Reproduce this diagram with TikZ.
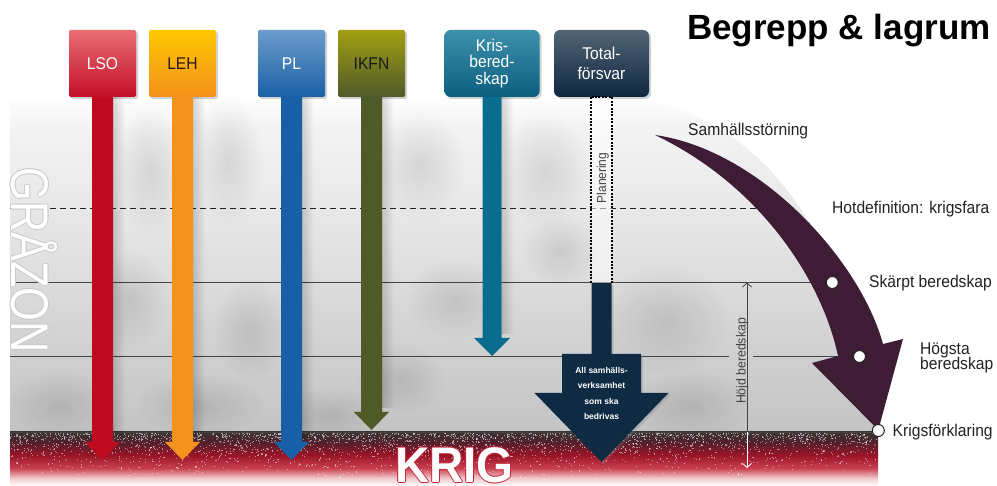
\documentclass[tikz,border=0pt]{standalone}
\usepackage{fontspec}
\setmainfont{Liberation Sans}
\newfontfamily\cond{Liberation Sans}[FakeStretch=0.92]
\newfontfamily\gzfont{Liberation Sans}[FakeStretch=0.82]
\newfontfamily\krfont{Liberation Sans}[FakeStretch=0.95]
\usetikzlibrary{arrows.meta,shadows,fadings,calc}
\definecolor{lsoA}{HTML}{E86E72}\definecolor{lsoB}{HTML}{C40E28}\definecolor{lsoS}{HTML}{C00A20}
\definecolor{lehA}{HTML}{FFC800}\definecolor{lehB}{HTML}{F39019}\definecolor{lehS}{HTML}{F3921E}
\definecolor{plA}{HTML}{6C9CCC}\definecolor{plB}{HTML}{1A5FA6}\definecolor{plS}{HTML}{1760A8}
\definecolor{ikA}{HTML}{A39E12}\definecolor{ikB}{HTML}{4E5A2A}\definecolor{ikS}{HTML}{4F5A28}
\definecolor{krA}{HTML}{3E91AC}\definecolor{krB}{HTML}{0B5E7E}\definecolor{krS}{HTML}{0A6C8E}
\definecolor{toA}{HTML}{536575}\definecolor{toB}{HTML}{0E2640}\definecolor{navy}{HTML}{0F2B44}
\definecolor{plum}{HTML}{3E1C35}
\definecolor{txt}{HTML}{222222}\definecolor{txtgray}{HTML}{444444}
\definecolor{bdA}{HTML}{3A3436}\definecolor{bdB}{HTML}{52202A}\definecolor{bdC}{HTML}{9A1428}
\definecolor{bdD}{HTML}{C84050}\definecolor{bdE}{HTML}{F0C8CC}
\definecolor{gA}{HTML}{F3F3F3}\definecolor{gB}{HTML}{E2E2E2}\definecolor{gC}{HTML}{D0D0D0}\definecolor{gD}{HTML}{C4C4C4}
\definecolor{gzline}{HTML}{C8C8C8}\definecolor{krline}{HTML}{C8283A}
\tikzfading[name=fadeR, left color=transparent!0, right color=transparent!100]
\tikzfading[name=fuzzy, inner color=transparent!0, outer color=transparent!100]
\pgfdeclareverticalshading{bandshade}{100bp}{color(0bp)=(white); color(25bp)=(white); color(32.5bp)=(bdE); color(41.5bp)=(bdD); color(53.5bp)=(bdC); color(65.5bp)=(bdB); color(75bp)=(bdA); color(100bp)=(bdA)}
\pgfdeclareverticalshading{grayshade}{100bp}{color(0bp)=(gD); color(25bp)=(gD); color(37bp)=(gC); color(52bp)=(gB); color(70bp)=(gA); color(75bp)=(white); color(100bp)=(white)}
\newcommand\mydnarrow[6]{%
  \fill[black,opacity=.16,path fading=fadeR] let \p1=(#1), \p2=(#2) in (\x1+#4,\y1) rectangle (\x1+#4+12pt,\y2+#6+4pt);
  \fill[#3] let \p1=(#1), \p2=(#2) in (\x1-#4,\y1) -- (\x1+#4,\y1) -- (\x1+#4,\y2+#6) -- (\x1+#5,\y2+#6) -- (\x2,\y2) -- (\x1-#5,\y2+#6) -- (\x1-#4,\y2+#6) -- cycle;}
\begin{document}
\begin{tikzpicture}[x=1pt,y=-1pt,
  box/.style={minimum width=67pt, minimum height=67pt, inner sep=0pt, rounded corners=1.5pt,
    shading angle=45, drop shadow={opacity=.35,shadow xshift=2pt,shadow yshift=-2pt},
    font=\cond\fontsize{17}{20}\selectfont, text=white},
  rbox/.style={box, minimum width=95pt, rounded corners=6pt, align=center},
  lbl/.style={inner sep=0pt, anchor=base west, font=\cond\fontsize{17}{17}\selectfont, text=txt},
  hline/.style={draw=txtgray, line width=0.9pt},
  dashline/.style={draw=txt, line width=0.8pt, dash pattern=on 6pt off 4pt},
  harrow/.style={draw=txtgray, line width=0.8pt, -{Straight Barb[length=4pt,width=9pt]}},
  dotc/.style={circle, draw=txt, fill=white, line width=1pt, minimum size=12pt, inner sep=0pt},
  blob/.style={black, opacity=.10, path fading=fuzzy}]
\useasboundingbox (0,0) rectangle (997,486);
\fill[white] (0,0) rectangle (997,486);
% grey zone
\shade[shading=grayshade] (10,95) -- (600,95) .. controls (770,100) and (850,250) .. (878,432) -- (10,432) -- cycle;
\foreach \bx/\by/\brx/\bry in {60/405/55/35, 150/170/35/65, 228/160/35/65, 420/165/45/55, 545/170/45/60,
   455/300/50/40, 665/320/65/55, 200/405/65/32, 330/415/55/28, 560/250/40/35, 130/300/38/50, 250/330/38/50, 400/380/45/35, 690/405/60/35}
  {\fill[blob] (\bx,\by) ellipse ({\brx} and {\bry});}
% war band
\shade[shading=bandshade] (10,432) rectangle (878,486);
\pgfmathsetseed{7}
\foreach \i in {1,...,2600}{
  \pgfmathsetmacro\sx{10+866*rnd}
  \pgfmathsetmacro\sy{433+46*rnd*rnd}
  \fill[white,opacity=.5] (\sx,\sy) rectangle ++(1.1,1.1);}
\draw[txtgray, line width=0.8pt] (10,432) -- (878,432);
% level lines
\coordinate (dl) at (10,208); \coordinate (dr) at (790,208);
\coordinate (c1p) at (832.3,282.5); \coordinate (c2p) at (859.5,356.5); \coordinate (c3p) at (878.3,430.5);
\coordinate (l1) at (10,282.5);
\coordinate (l2) at (10,356.5); \coordinate (l2a) at (729,356.5); \coordinate (l2b) at (753,356.5);
\draw[dashline] (dl) -- (dr);
\draw[hline] (l1) -- (c1p);
\draw[hline] (l2) -- (l2a);
\draw[hline] (l2b) -- (c2p);
% Hojd beredskap
\coordinate (htop) at (747,282.5); \coordinate (hmid) at (747,432); \coordinate (hbot) at (747,468);
\draw[harrow] (hmid) -- (htop);
\draw[harrow, draw=white] (hmid) -- (hbot);
\node[rotate=90, anchor=base, inner sep=0pt, font=\cond\fontsize{13.3}{13.3}\selectfont, text=txtgray] (hojd) at (745.5,361) {Höjd beredskap};
% boxes
\node[box, top color=lsoA, bottom color=lsoB] (lso) at (102.5,63.5) {LSO};
\node[box, top color=lehA, bottom color=lehB, text=black!80!brown] (leh) at (182.5,63.5) {LEH};
\node[box, top color=plA, bottom color=plB] (pl) at (291.5,63.5) {PL};
\node[box, top color=ikA, bottom color=ikB, text=black!90] (ikfn) at (371.5,63.5) {IKFN};
\node[rbox, top color=krA, bottom color=krB, font=\cond\fontsize{17}{16.5}\selectfont] (kris) at (492,63.5) {Kris-\\bered-\\skap};
\node[rbox, top color=toA, bottom color=toB, font=\cond\fontsize{17}{19.5}\selectfont] (total) at (601.5,63.5) {Total-\\försvar};
% arrow ends
\coordinate (lso-end) at (102.5,460); \coordinate (leh-end) at (182.5,460);
\coordinate (pl-end) at (291.5,460); \coordinate (ik-end) at (371.5,430);
\coordinate (kr-end) at (492,356);
\mydnarrow{lso.south}{lso-end}{lsoS}{10.5pt}{17.5pt}{18pt}
\mydnarrow{leh.south}{leh-end}{lehS}{10.5pt}{17.5pt}{18pt}
\mydnarrow{pl.south}{pl-end}{plS}{10.5pt}{17.5pt}{18pt}
\mydnarrow{ikfn.south}{ik-end}{ikS}{10.5pt}{17.5pt}{18pt}
\mydnarrow{kris.south}{kr-end}{krS}{9.5pt}{18pt}{18pt}
% totalforsvar
\node[fill=white, fill opacity=.55, minimum width=20pt, minimum height=186pt, anchor=north, inner sep=0pt] (plan) at (total.south) {};
\draw[draw=black, dash pattern=on 2pt off 1.4pt, line width=2pt] (plan.north west) rectangle (plan.south east);
\node[rotate=90, anchor=base, inner sep=0pt, font=\cond\fontsize{13}{13}\selectfont, text=txtgray] (planering) at (606,178) {Planering};
\fill[navy, drop shadow={opacity=.3,shadow xshift=2pt,shadow yshift=-2pt}]
  (591.5,283) -- (611.5,283) -- (611.5,354) -- (641,354) -- (641,393) -- (668.5,393) -- (601.5,462)
  -- (534.5,393) -- (562,393) -- (562,354) -- (591.5,354) -- cycle;
\node[align=center, text=white, inner sep=0pt, font=\bfseries\fontsize{8.5}{15.5}\selectfont] (alltext) at (601.5,393.5) {All samhälls-\\verksamhet\\som ska\\bedrivas};
% plum arrow
\fill[plum] (655,135) .. controls (760,150) and (860,260) .. (883,344) -- (903,339) -- (878.3,430) -- (812,363)
  -- (838,356) .. controls (822,280) and (760,185) .. (655,135) -- cycle;
\node[dotc] (c1) at (c1p) {};
\node[dotc] (c2) at (c2p) {};
\node[dotc] (c3) at (c3p) {};
% labels
\node[lbl] (samh) at (688,136) {Samhällsstörning};
\node[lbl] (hot) at (832,214) {Hotdefinition: krigsfara};
\node[lbl] (skarpt) at (869,287.7) {Skärpt beredskap};
\node[lbl] (hogsta) at (920,354.3) {Högsta};
\node[lbl] (hogsta2) at (920,370) {beredskap};
\node[lbl] (krigsf) at (892.5,436.5) {Krigsförklaring};
% GRAZON
\foreach \dx/\dy [count=\k] in {1/0, -1/0, 0/1, 0/-1}
  {\node[rotate=-90, anchor=base west, inner sep=0pt, text=gzline, font=\gzfont\fontsize{53}{53}\selectfont] (gz\k) at (11.5+\dx,167+\dy) {GRÅZON};}
\node[rotate=-90, anchor=base west, inner sep=0pt, text=white, font=\gzfont\fontsize{53}{53}\selectfont] (grazon) at (11.5,167) {GRÅZON};
% KRIG
\foreach \dx/\dy [count=\k] in {1/0, -1/0, 0/1, 0/-1}
  {\node[anchor=base west, inner sep=0pt, text=krline, font=\krfont\bfseries\fontsize{50}{50}\selectfont] (kr\k) at (395+\dx,482.5+\dy) {KRIG};}
\node[anchor=base west, inner sep=0pt, text=white, font=\krfont\bfseries\fontsize{50}{50}\selectfont] (krig) at (395,482.5) {KRIG};
% title
\node[anchor=base west, inner sep=0pt, font=\bfseries\fontsize{35}{40}\selectfont] (title) at (687,40) {Begrepp \& lagrum};
\end{tikzpicture}
\end{document}
